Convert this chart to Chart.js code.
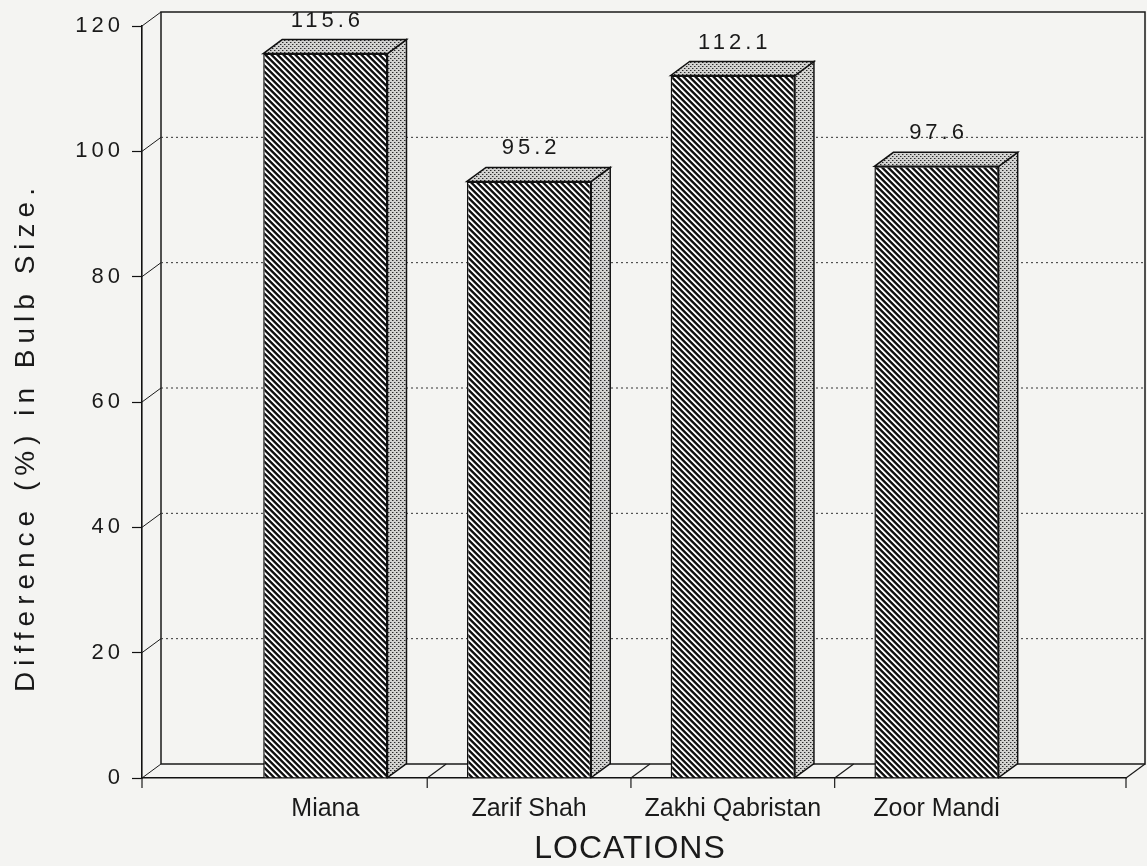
<!DOCTYPE html>
<html>
<head>
<meta charset="utf-8">
<script src="https://cdn.jsdelivr.net/npm/chart.js@4"></script>
<style>
  html, body { margin: 0; padding: 0; background: #f4f4f2; }
  #wrap { width: 1147px; height: 866px; }
</style>
</head>
<body>
<div id="wrap"><canvas id="bulbChart" width="1147" height="866"></canvas></div>
<script>
// datos
const locations = ['Miana', 'Zarif Shah', 'Zakhi Qabristan', 'Zoor Mandi'];
const bulbDiff = [115.6, 95.2, 112.1, 97.6];
const yTicks = [0, 20, 40, 60, 80, 100, 120];

// profundidad del efecto 3D (px)
const DX = 19;
const DY = 14;

// trama diagonal de las barras
function makeHatch() {
  const c = document.createElement('canvas');
  c.width = 6; c.height = 6;
  const g = c.getContext('2d');
  const img = g.createImageData(6, 6);
  const shades = [15, 15, 60, 250, 250, 140];
  for (let y = 0; y < 6; y++) {
    for (let x = 0; x < 6; x++) {
      const d = ((x - y) % 6 + 6) % 6;
      const v = shades[d];
      const k = (y * 6 + x) * 4;
      img.data[k] = v; img.data[k + 1] = v; img.data[k + 2] = v; img.data[k + 3] = 255;
    }
  }
  g.putImageData(img, 0, 0);
  return g.createPattern(c, 'repeat');
}

// punteado gris de caras superior y lateral
function makeStipple() {
  const c = document.createElement('canvas');
  c.width = 4; c.height = 4;
  const g = c.getContext('2d');
  g.fillStyle = '#d2d2d0';
  g.fillRect(0, 0, 4, 4);
  g.fillStyle = '#2a2a2a';
  g.fillRect(0, 0, 1, 1);
  g.fillRect(2, 2, 1, 1);
  g.fillStyle = '#888';
  g.fillRect(1, 0, 1, 1);
  g.fillRect(3, 2, 1, 1);
  return g.createPattern(c, 'repeat');
}

const hatch = makeHatch();
const stipple = makeStipple();

const frame3d = {
  id: 'frame3d',
  beforeDatasetsDraw(chart) {
    const { ctx, chartArea: a, scales: { x, y } } = chart;
    ctx.save();
    ctx.strokeStyle = '#1a1a1a';
    ctx.lineWidth = 1.5;

    // pared del fondo
    ctx.beginPath();
    ctx.moveTo(a.left + DX, a.bottom - DY);
    ctx.lineTo(a.left + DX, a.top - DY);
    ctx.lineTo(a.right + DX, a.top - DY);
    ctx.lineTo(a.right + DX, a.bottom - DY);
    ctx.lineTo(a.left + DX, a.bottom - DY);
    ctx.stroke();

    // uniones en cada marca del eje y
    ctx.lineWidth = 1;
    y.ticks.forEach(t => {
      const py = y.getPixelForValue(t.value);
      ctx.beginPath();
      ctx.moveTo(a.left, py);
      ctx.lineTo(a.left + DX, py - DY);
      ctx.stroke();
    });

    // marcas del eje x (entre categorias) y sus uniones con el fondo
    const splits = [x.min, ...locations.slice(1).map((_, i) => i + 0.5), x.max];
    ctx.lineWidth = 1.2;
    splits.forEach((v, i) => {
      const px = x.getPixelForValue(v);
      ctx.beginPath();
      ctx.moveTo(px, a.bottom);
      ctx.lineTo(px, a.bottom + 10);
      ctx.stroke();
      if (i > 0) {
        ctx.beginPath();
        ctx.moveTo(px, a.bottom);
        ctx.lineTo(px + DX, a.bottom - DY);
        ctx.stroke();
      }
    });

    // rejilla punteada al fondo
    ctx.setLineDash([2, 3]);
    ctx.lineWidth = 1;
    ctx.strokeStyle = '#333';
    y.ticks.forEach(t => {
      if (t.value <= y.min || t.value >= y.max) return;
      const py = y.getPixelForValue(t.value) - DY;
      ctx.beginPath();
      ctx.moveTo(a.left + DX, py);
      ctx.lineTo(a.right + DX, py);
      ctx.stroke();
    });
    ctx.restore();
  },

  afterDatasetsDraw(chart) {
    const { ctx } = chart;
    const meta = chart.getDatasetMeta(0);
    ctx.save();
    ctx.strokeStyle = '#111';
    ctx.lineWidth = 1.5;
    ctx.lineJoin = 'miter';
    meta.data.forEach((bar, i) => {
      const { x: cx, y: top, base, width } = bar.getProps(['x', 'y', 'base', 'width'], true);
      const x0 = cx - width / 2;
      const x1 = cx + width / 2;

      // cara lateral
      ctx.beginPath();
      ctx.moveTo(x1, top);
      ctx.lineTo(x1 + DX, top - DY);
      ctx.lineTo(x1 + DX, base - DY);
      ctx.lineTo(x1, base);
      ctx.closePath();
      ctx.fillStyle = stipple;
      ctx.fill();
      ctx.stroke();

      // cara superior
      ctx.beginPath();
      ctx.moveTo(x0, top);
      ctx.lineTo(x0 + DX, top - DY);
      ctx.lineTo(x1 + DX, top - DY);
      ctx.lineTo(x1, top);
      ctx.closePath();
      ctx.fill();
      ctx.stroke();

      // etiqueta de valor
      ctx.fillStyle = '#1a1a1a';
      ctx.font = '22px "Liberation Sans", Arial, sans-serif';
      ctx.letterSpacing = '4px';
      ctx.textAlign = 'center';
      ctx.textBaseline = 'middle';
      ctx.fillText(bulbDiff[i].toFixed(1), cx + 2, top - 33);
    });

    // titulos de los ejes
    ctx.fillStyle = '#1a1a1a';
    ctx.textAlign = 'center';
    ctx.textBaseline = 'middle';
    ctx.font = '32px "Liberation Sans Narrow", "Liberation Sans", sans-serif';
    ctx.letterSpacing = '1px';
    ctx.fillText('LOCATIONS', 630, 849);

    ctx.save();
    ctx.translate(26, 440);
    ctx.rotate(-Math.PI / 2);
    ctx.font = '28px "Liberation Sans", Arial, sans-serif';
    ctx.letterSpacing = '6px';
    ctx.fillText('Difference (%) in Bulb Size.', 3, 0);
    ctx.restore();
    ctx.restore();

    // las etiquetas del eje y (z: 1) se dibujan despues con este espaciado
    ctx.letterSpacing = '4px';
  },

  afterDraw(chart) {
    chart.ctx.letterSpacing = '0px';
  }
};

const ctx = document.getElementById('bulbChart').getContext('2d');
new Chart(ctx, {
  type: 'bar',
  data: {
    datasets: [{
      label: 'Difference (%) in Bulb Size',
      data: bulbDiff.map((v, i) => ({ x: i, y: v })),
      backgroundColor: hatch,
      borderColor: '#111',
      borderWidth: 1.5,
      barPercentage: 0.61,
      categoryPercentage: 1
    }]
  },
  options: {
    responsive: false,
    animation: false,
    layout: { padding: { top: 26, right: 21, left: 0, bottom: 0 } },
    plugins: {
      legend: { display: false },
      tooltip: { enabled: false }
    },
    scales: {
      x: {
        type: 'linear',
        offset: false,
        min: -0.9,
        max: 3.93,
        afterBuildTicks: scale => {
          scale.ticks = locations.map((_, i) => ({ value: i }));
        },
        afterFit: scale => { scale.height = 88; },
        grid: { offset: false, drawOnChartArea: false, drawTicks: false },
        border: { display: true, color: '#111', width: 1.6 },
        ticks: {
          autoSkip: false,
          maxRotation: 0,
          padding: 16,
          color: '#1a1a1a',
          font: { family: '"Liberation Sans Narrow", "Liberation Sans", sans-serif', size: 25 },
          callback: value => locations[value] ?? ''
        }
      },
      y: {
        min: 0,
        max: 120,
        afterBuildTicks: scale => {
          scale.ticks = yTicks.map(v => ({ value: v }));
        },
        afterFit: scale => { scale.width = 142; },
        grid: { drawOnChartArea: false, drawTicks: true, tickLength: 10, tickColor: '#111', tickWidth: 1.2 },
        border: { display: true, color: '#111', width: 1.6 },
        ticks: {
          z: 1,
          padding: 8,
          color: '#1a1a1a',
          font: { family: '"Liberation Sans", Arial, sans-serif', size: 22 }
        }
      }
    }
  },
  plugins: [frame3d]
});
</script>
</body>
</html>
